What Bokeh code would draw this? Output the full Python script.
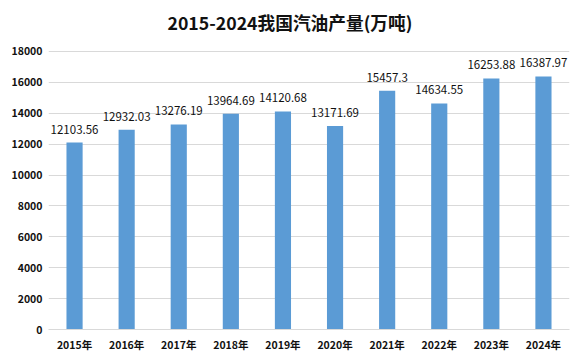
from bokeh.plotting import figure
from bokeh.models import ColumnDataSource, FixedTicker, Range1d, FactorRange, LabelSet
from bokeh.core.properties import value
from bokeh.embed import file_html
from bokeh.resources import INLINE

years = ["2015年", "2016年", "2017年", "2018年", "2019年", "2020年", "2021年", "2022年", "2023年", "2024年"]
output = [12103.56, 12932.03, 13276.19, 13964.69, 14120.68, 13171.69, 15457.3, 14634.55, 16253.88, 16387.97]
labels = ["12103.56", "12932.03", "13276.19", "13964.69", "14120.68", "13171.69", "15457.3", "14634.55", "16253.88", "16387.97"]
y_ticks = [0, 2000, 4000, 6000, 8000, 10000, 12000, 14000, 16000, 18000]

src = ColumnDataSource(dict(x=years, y=output, t=labels))

FONT = "Noto Sans CJK SC"

# frame spans y 36..329 px; 18000 gridline sits at 51 px like the reference
p = figure(width=577, height=354, x_range=FactorRange(*years, range_padding=0),
           y_range=Range1d(0, 18971), output_backend="svg", toolbar_location=None,
           title="2015-2024我国汽油产量(万吨)")
p.min_border_left = 48
p.min_border_right = 8
p.min_border_top = 36
p.min_border_bottom = 25
p.outline_line_color = None
p.background_fill_color = "white"
p.border_fill_color = "white"

p.title.align = "left"
p.title.offset = 119
p.title.standoff = 4
p.title.text_font = FONT
p.title.text_font_size = "17.7px"
p.title.text_font_style = "bold"
p.title.text_color = "#111111"

p.vbar(x="x", top="y", width=0.31, source=src, fill_color="#5B9BD5", line_color=None)

p.add_layout(LabelSet(x="x", y="y", text="t", source=src, text_align="center",
                      text_baseline="bottom", y_offset=9, text_font_size=value("11.5px"),
                      text_font=value(FONT), text_color="#111111"))

p.yaxis.ticker = FixedTicker(ticks=y_ticks)
p.yaxis.axis_line_color = None
p.yaxis.major_tick_line_color = None
p.yaxis.minor_tick_line_color = None
p.yaxis.major_tick_out = 0
p.yaxis.major_tick_in = 0
p.yaxis.minor_tick_out = 0
p.yaxis.major_label_text_font = FONT
p.yaxis.major_label_text_font_size = "10.5px"
p.yaxis.major_label_text_font_style = "bold"
p.yaxis.major_label_text_color = "#111111"
p.yaxis.major_label_standoff = 6

p.xaxis.axis_line_color = "#D9D9D9"
p.xaxis.major_tick_line_color = None
p.xaxis.minor_tick_line_color = None
p.xaxis.major_tick_out = 0
p.xaxis.major_tick_in = 0
p.xaxis.minor_tick_out = 0
p.xaxis.major_label_text_font = FONT
p.xaxis.major_label_text_font_size = "10.5px"
p.xaxis.major_label_text_font_style = "bold"
p.xaxis.major_label_text_color = "#111111"
p.xaxis.major_label_standoff = 7

p.xgrid.grid_line_color = None
p.ygrid.grid_line_color = "#D9D9D9"

open("out.html", "w").write(file_html(p, INLINE))
